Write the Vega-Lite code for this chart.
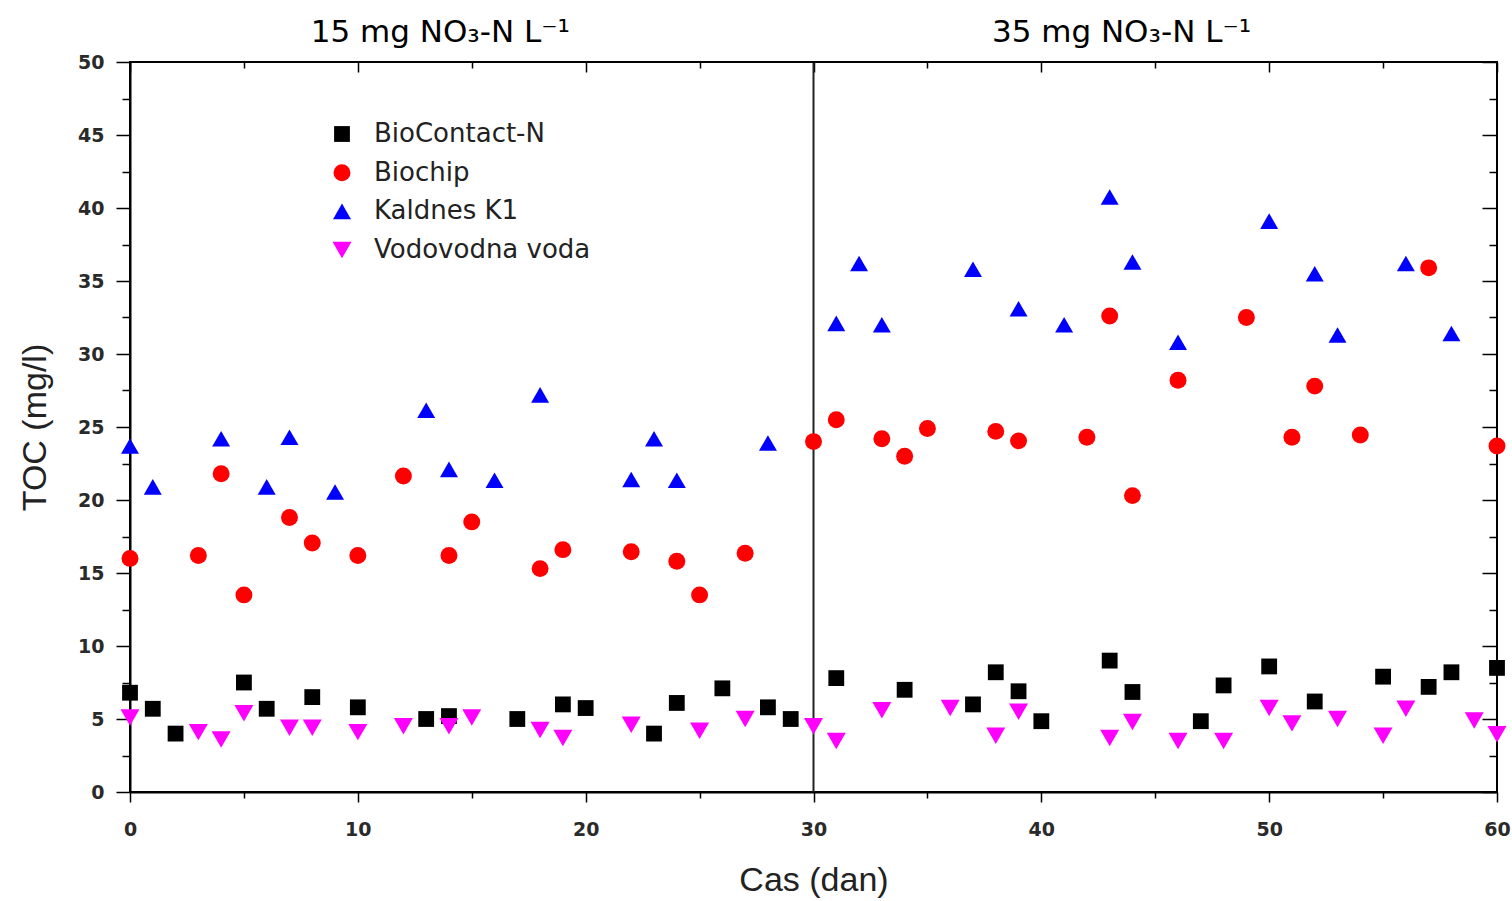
{
  "$schema": "https://vega.github.io/schema/vega-lite/v6.json",
  "width": 1367,
  "height": 730,
  "autosize": {"type": "none"},
  "padding": {"left": 130, "top": 62, "right": 15, "bottom": 109},
  "background": "white",
  "config": {
    "view": {"stroke": "#000", "strokeWidth": 2},
    "axis": {
      "domainColor": "#000", "domainWidth": 2, "tickColor": "#000", "tickWidth": 1.5, "grid": false,
      "labelFont": "DejaVu Sans", "labelFontSize": 19, "labelFontWeight": "bold", "labelColor": "#2a2a2a",
      "titleFont": "Liberation Sans", "titleFontSize": 34, "titleFontWeight": "normal", "titleColor": "#222",
      "labelOverlap": false, "labelFlush": false, "labelBound": false, "labelLimit": 600
    },
    "legend": {
      "orient": "none", "legendX": 199, "legendY": 59, "padding": 0, "title": null,
      "labelFont": "DejaVu Sans", "labelFontSize": 26, "labelColor": "#222", "labelOffset": 19,
      "rowPadding": 12.7, "symbolStrokeWidth": 0, "labelLimit": 400
    }
  },
  "datasets": {
    "pts": [
      {"d": 0, "toc": 6.8, "s": "BioContact-N"}, {"d": 1, "toc": 5.7, "s": "BioContact-N"}, {"d": 2, "toc": 4.0, "s": "BioContact-N"},
      {"d": 5, "toc": 7.5, "s": "BioContact-N"}, {"d": 6, "toc": 5.7, "s": "BioContact-N"}, {"d": 8, "toc": 6.5, "s": "BioContact-N"},
      {"d": 10, "toc": 5.8, "s": "BioContact-N"}, {"d": 13, "toc": 5.0, "s": "BioContact-N"}, {"d": 14, "toc": 5.2, "s": "BioContact-N"},
      {"d": 17, "toc": 5.0, "s": "BioContact-N"}, {"d": 19, "toc": 6.0, "s": "BioContact-N"}, {"d": 20, "toc": 5.75, "s": "BioContact-N"},
      {"d": 23, "toc": 4.0, "s": "BioContact-N"}, {"d": 24, "toc": 6.1, "s": "BioContact-N"}, {"d": 26, "toc": 7.1, "s": "BioContact-N"},
      {"d": 28, "toc": 5.8, "s": "BioContact-N"}, {"d": 29, "toc": 5.0, "s": "BioContact-N"}, {"d": 31, "toc": 7.8, "s": "BioContact-N"},
      {"d": 34, "toc": 7.0, "s": "BioContact-N"}, {"d": 37, "toc": 6.0, "s": "BioContact-N"}, {"d": 38, "toc": 8.2, "s": "BioContact-N"},
      {"d": 39, "toc": 6.9, "s": "BioContact-N"}, {"d": 40, "toc": 4.85, "s": "BioContact-N"}, {"d": 43, "toc": 9.0, "s": "BioContact-N"},
      {"d": 44, "toc": 6.85, "s": "BioContact-N"}, {"d": 47, "toc": 4.85, "s": "BioContact-N"}, {"d": 48, "toc": 7.3, "s": "BioContact-N"},
      {"d": 50, "toc": 8.6, "s": "BioContact-N"}, {"d": 52, "toc": 6.2, "s": "BioContact-N"}, {"d": 55, "toc": 7.9, "s": "BioContact-N"},
      {"d": 57, "toc": 7.2, "s": "BioContact-N"}, {"d": 58, "toc": 8.2, "s": "BioContact-N"}, {"d": 60, "toc": 8.5, "s": "BioContact-N"},

      {"d": 0, "toc": 16.0, "s": "Biochip"}, {"d": 3, "toc": 16.2, "s": "Biochip"}, {"d": 4, "toc": 21.8, "s": "Biochip"},
      {"d": 5, "toc": 13.5, "s": "Biochip"}, {"d": 7, "toc": 18.8, "s": "Biochip"}, {"d": 8, "toc": 17.05, "s": "Biochip"},
      {"d": 10, "toc": 16.2, "s": "Biochip"}, {"d": 12, "toc": 21.65, "s": "Biochip"}, {"d": 14, "toc": 16.2, "s": "Biochip"},
      {"d": 15, "toc": 18.5, "s": "Biochip"}, {"d": 18, "toc": 15.3, "s": "Biochip"}, {"d": 19, "toc": 16.6, "s": "Biochip"},
      {"d": 22, "toc": 16.45, "s": "Biochip"}, {"d": 24, "toc": 15.8, "s": "Biochip"}, {"d": 25, "toc": 13.5, "s": "Biochip"},
      {"d": 27, "toc": 16.35, "s": "Biochip"}, {"d": 30, "toc": 24.0, "s": "Biochip"}, {"d": 31, "toc": 25.5, "s": "Biochip"},
      {"d": 33, "toc": 24.2, "s": "Biochip"}, {"d": 34, "toc": 23.0, "s": "Biochip"}, {"d": 35, "toc": 24.9, "s": "Biochip"},
      {"d": 38, "toc": 24.7, "s": "Biochip"}, {"d": 39, "toc": 24.05, "s": "Biochip"}, {"d": 42, "toc": 24.3, "s": "Biochip"},
      {"d": 43, "toc": 32.6, "s": "Biochip"}, {"d": 44, "toc": 20.3, "s": "Biochip"}, {"d": 46, "toc": 28.2, "s": "Biochip"},
      {"d": 49, "toc": 32.5, "s": "Biochip"}, {"d": 51, "toc": 24.3, "s": "Biochip"}, {"d": 52, "toc": 27.8, "s": "Biochip"},
      {"d": 54, "toc": 24.45, "s": "Biochip"}, {"d": 57, "toc": 35.9, "s": "Biochip"}, {"d": 60, "toc": 23.7, "s": "Biochip"},

      {"d": 0, "toc": 23.7, "s": "Kaldnes K1"}, {"d": 1, "toc": 20.9, "s": "Kaldnes K1"}, {"d": 4, "toc": 24.2, "s": "Kaldnes K1"},
      {"d": 6, "toc": 20.9, "s": "Kaldnes K1"}, {"d": 7, "toc": 24.3, "s": "Kaldnes K1"}, {"d": 9, "toc": 20.55, "s": "Kaldnes K1"},
      {"d": 13, "toc": 26.15, "s": "Kaldnes K1"}, {"d": 14, "toc": 22.1, "s": "Kaldnes K1"}, {"d": 16, "toc": 21.35, "s": "Kaldnes K1"},
      {"d": 18, "toc": 27.2, "s": "Kaldnes K1"}, {"d": 22, "toc": 21.4, "s": "Kaldnes K1"}, {"d": 23, "toc": 24.2, "s": "Kaldnes K1"},
      {"d": 24, "toc": 21.35, "s": "Kaldnes K1"}, {"d": 28, "toc": 23.9, "s": "Kaldnes K1"}, {"d": 31, "toc": 32.1, "s": "Kaldnes K1"},
      {"d": 32, "toc": 36.2, "s": "Kaldnes K1"}, {"d": 33, "toc": 32.0, "s": "Kaldnes K1"}, {"d": 37, "toc": 35.8, "s": "Kaldnes K1"},
      {"d": 39, "toc": 33.1, "s": "Kaldnes K1"}, {"d": 41, "toc": 32.0, "s": "Kaldnes K1"}, {"d": 43, "toc": 40.75, "s": "Kaldnes K1"},
      {"d": 44, "toc": 36.3, "s": "Kaldnes K1"}, {"d": 46, "toc": 30.8, "s": "Kaldnes K1"}, {"d": 50, "toc": 39.1, "s": "Kaldnes K1"},
      {"d": 52, "toc": 35.5, "s": "Kaldnes K1"}, {"d": 53, "toc": 31.3, "s": "Kaldnes K1"}, {"d": 56, "toc": 36.2, "s": "Kaldnes K1"},
      {"d": 58, "toc": 31.4, "s": "Kaldnes K1"},

      {"d": 0, "toc": 5.1, "s": "Vodovodna voda"}, {"d": 3, "toc": 4.1, "s": "Vodovodna voda"}, {"d": 4, "toc": 3.6, "s": "Vodovodna voda"},
      {"d": 5, "toc": 5.4, "s": "Vodovodna voda"}, {"d": 7, "toc": 4.4, "s": "Vodovodna voda"}, {"d": 8, "toc": 4.4, "s": "Vodovodna voda"},
      {"d": 10, "toc": 4.1, "s": "Vodovodna voda"}, {"d": 12, "toc": 4.5, "s": "Vodovodna voda"}, {"d": 14, "toc": 4.5, "s": "Vodovodna voda"},
      {"d": 15, "toc": 5.1, "s": "Vodovodna voda"}, {"d": 18, "toc": 4.25, "s": "Vodovodna voda"}, {"d": 19, "toc": 3.7, "s": "Vodovodna voda"},
      {"d": 22, "toc": 4.6, "s": "Vodovodna voda"}, {"d": 25, "toc": 4.2, "s": "Vodovodna voda"}, {"d": 27, "toc": 5.0, "s": "Vodovodna voda"},
      {"d": 30, "toc": 4.5, "s": "Vodovodna voda"}, {"d": 31, "toc": 3.5, "s": "Vodovodna voda"}, {"d": 33, "toc": 5.6, "s": "Vodovodna voda"},
      {"d": 36, "toc": 5.75, "s": "Vodovodna voda"}, {"d": 38, "toc": 3.85, "s": "Vodovodna voda"}, {"d": 39, "toc": 5.5, "s": "Vodovodna voda"},
      {"d": 43, "toc": 3.7, "s": "Vodovodna voda"}, {"d": 44, "toc": 4.8, "s": "Vodovodna voda"}, {"d": 46, "toc": 3.5, "s": "Vodovodna voda"},
      {"d": 48, "toc": 3.5, "s": "Vodovodna voda"}, {"d": 50, "toc": 5.75, "s": "Vodovodna voda"}, {"d": 51, "toc": 4.7, "s": "Vodovodna voda"},
      {"d": 53, "toc": 5.0, "s": "Vodovodna voda"}, {"d": 55, "toc": 3.85, "s": "Vodovodna voda"}, {"d": 56, "toc": 5.7, "s": "Vodovodna voda"},
      {"d": 59, "toc": 4.9, "s": "Vodovodna voda"}, {"d": 60, "toc": 3.95, "s": "Vodovodna voda"}
    ],
    "v30": [{"d": 30}],
    "topline": [{"toc": 50}],
    "rightline": [{"d": 60}]
  },
  "layer": [
    {
      "data": {"name": "v30"},
      "mark": {"type": "rule", "color": "#222", "strokeWidth": 2},
      "encoding": {
        "x": {
          "field": "d", "type": "quantitative",
          "scale": {"domain": [0, 60], "nice": false, "zero": false},
          "axis": {
            "orient": "top", "values": [0, 5, 10, 15, 20, 25, 30, 35, 40, 45, 50, 55, 60],
            "labels": false, "domain": false, "title": null,
            "tickSize": {"condition": {"test": "datum.value % 10 === 0", "value": -10}, "value": -6}
          }
        }
      }
    },
    {
      "data": {"name": "topline"},
      "mark": {"type": "rule", "color": "#000", "strokeWidth": 2},
      "encoding": {
        "y": {
          "field": "toc", "type": "quantitative",
          "scale": {"domain": [0, 50], "nice": false, "zero": false},
          "axis": {
            "orient": "right", "values": [0, 2.5, 5, 7.5, 10, 12.5, 15, 17.5, 20, 22.5, 25, 27.5, 30, 32.5, 35, 37.5, 40, 42.5, 45, 47.5, 50],
            "labels": false, "domain": false, "title": null,
            "tickSize": {"condition": {"test": "datum.value % 5 === 0", "value": -15}, "value": -8}
          }
        }
      }
    },
    {
      "data": {"name": "rightline"},
      "mark": {"type": "rule", "color": "#000", "strokeWidth": 2},
      "encoding": {
        "x": {
          "field": "d", "type": "quantitative",
          "scale": {"domain": [0, 60], "nice": false, "zero": false},
          "axis": {
            "orient": "top", "values": [13.6, 43.5], "ticks": false, "tickSize": 0, "domain": false, "title": null,
            "labelExpr": "datum.value < 30 ? '15 mg NO₃-N L⁻¹' : '35 mg NO₃-N L⁻¹'",
            "labelFont": "DejaVu Sans", "labelFontSize": 31, "labelFontWeight": "normal", "labelColor": "#000", "labelPadding": 14
          }
        }
      }
    },
    {
      "data": {"name": "pts"},
      "mark": {"type": "point", "filled": true, "opacity": 1, "strokeWidth": 0},
      "encoding": {
        "x": {
          "field": "d", "type": "quantitative",
          "scale": {"domain": [0, 60], "nice": false, "zero": false},
          "axis": {
            "orient": "bottom", "values": [0, 5, 10, 15, 20, 25, 30, 35, 40, 45, 50, 55, 60],
            "format": "d",
            "labelExpr": "datum.value % 10 === 0 ? datum.label : ''",
            "tickSize": {"condition": {"test": "datum.value % 10 === 0", "value": 10}, "value": 6},
            "labelPadding": 18, "title": "Cas (dan)", "titlePadding": 24
          }
        },
        "y": {
          "field": "toc", "type": "quantitative",
          "scale": {"domain": [0, 50], "nice": false, "zero": false},
          "axis": {
            "orient": "left", "values": [0, 2.5, 5, 7.5, 10, 12.5, 15, 17.5, 20, 22.5, 25, 27.5, 30, 32.5, 35, 37.5, 40, 42.5, 45, 47.5, 50],
            "labelExpr": "datum.value % 5 === 0 ? format(datum.value, 'd') : ''",
            "tickSize": {"condition": {"test": "datum.value % 5 === 0", "value": 14}, "value": 8},
            "labelPadding": 12, "title": "TOC (mg/l)", "titlePadding": 25
          }
        },
        "color": {
          "field": "s", "type": "nominal",
          "scale": {"domain": ["BioContact-N", "Biochip", "Kaldnes K1", "Vodovodna voda"], "range": ["#000000", "#ff0000", "#0000ff", "#ff00ff"]}
        },
        "shape": {
          "field": "s", "type": "nominal",
          "scale": {"domain": ["BioContact-N", "Biochip", "Kaldnes K1", "Vodovodna voda"], "range": ["square", "circle", "triangle-up", "triangle-down"]}
        },
        "size": {
          "field": "s", "type": "nominal",
          "scale": {"domain": ["BioContact-N", "Biochip", "Kaldnes K1", "Vodovodna voda"], "range": [250, 361, 484, 484]}
        }
      }
    }
  ],
  "resolve": {"axis": {"x": "independent", "y": "independent"}}
}
